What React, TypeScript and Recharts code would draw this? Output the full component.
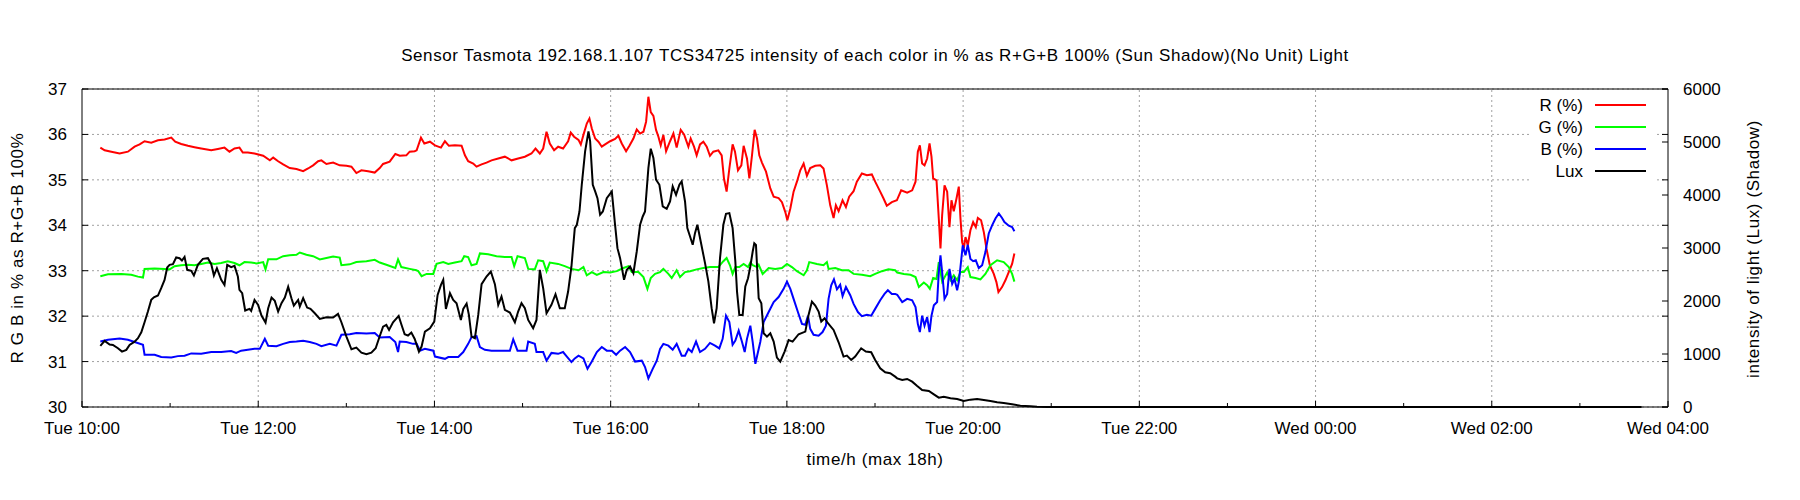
import { CartesianGrid, Line, LineChart, ReferenceLine, XAxis, YAxis } from "recharts";

const FONT = '"Liberation Sans", Arial, Helvetica, sans-serif';
const TITLE =
  "Sensor Tasmota 192.168.1.107 TCS34725 intensity of each color in % as R+G+B 100% (Sun Shadow)(No Unit) Light";

// time axis in hours since Tue 00:00 (24 = Wed 00:00)
const hourTicks = [10, 11, 12, 13, 14, 15, 16, 17, 18, 19, 20, 21, 22, 23, 24, 25, 26, 27, 28];
const gridHours = [12, 14, 16, 18, 20, 22, 24, 26];
const percentTicks = [30, 31, 32, 33, 34, 35, 36, 37];
const luxTicks = [0, 1000, 2000, 3000, 4000, 5000, 6000];

const red: [number, number][] = [
  [10.208, 35.71], [10.257, 35.65], [10.333, 35.62], [10.427, 35.58], [10.521, 35.62], [10.597, 35.73],
  [10.654, 35.78], [10.71, 35.85], [10.786, 35.82], [10.862, 35.87], [10.937, 35.89], [11.013, 35.93],
  [11.058, 35.84], [11.126, 35.79], [11.202, 35.75], [11.277, 35.72], [11.353, 35.69], [11.467, 35.65],
  [11.542, 35.68], [11.617, 35.71], [11.674, 35.62], [11.731, 35.69], [11.787, 35.71], [11.825, 35.6],
  [11.882, 35.6], [11.958, 35.58], [12.056, 35.53], [12.132, 35.43], [12.17, 35.49], [12.226, 35.41],
  [12.283, 35.34], [12.358, 35.26], [12.434, 35.24], [12.51, 35.19], [12.566, 35.25], [12.623, 35.32],
  [12.68, 35.41], [12.717, 35.43], [12.774, 35.35], [12.85, 35.38], [12.925, 35.32], [13.001, 35.31],
  [13.058, 35.29], [13.114, 35.15], [13.171, 35.21], [13.247, 35.19], [13.322, 35.16], [13.379, 35.26],
  [13.417, 35.35], [13.492, 35.4], [13.556, 35.57], [13.606, 35.53], [13.681, 35.54], [13.719, 35.62],
  [13.776, 35.63], [13.798, 35.65], [13.847, 35.93], [13.885, 35.8], [13.949, 35.84], [14.006, 35.76],
  [14.074, 35.71], [14.119, 35.85], [14.164, 35.75], [14.232, 35.76], [14.308, 35.75], [14.346, 35.54],
  [14.383, 35.41], [14.44, 35.36], [14.478, 35.29], [14.535, 35.34], [14.591, 35.38], [14.648, 35.43],
  [14.724, 35.47], [14.799, 35.51], [14.875, 35.43], [14.95, 35.47], [15.026, 35.51], [15.101, 35.58],
  [15.147, 35.69], [15.196, 35.58], [15.234, 35.69], [15.272, 36.06], [15.309, 35.8], [15.358, 35.65],
  [15.404, 35.73], [15.46, 35.69], [15.517, 35.85], [15.547, 36.04], [15.585, 35.95], [15.635, 35.88],
  [15.661, 35.78], [15.691, 35.99], [15.729, 36.24], [15.759, 36.35], [15.786, 36.13], [15.824, 35.91],
  [15.861, 35.84], [15.899, 35.73], [15.937, 35.78], [15.994, 35.85], [16.05, 35.9], [16.088, 35.97],
  [16.126, 35.8], [16.175, 35.63], [16.213, 35.75], [16.258, 35.91], [16.296, 36.11], [16.334, 36.02],
  [16.372, 36.06], [16.402, 36.28], [16.428, 36.83], [16.455, 36.49], [16.485, 36.41], [16.515, 36.1],
  [16.542, 35.95], [16.568, 35.76], [16.598, 35.99], [16.629, 35.63], [16.674, 35.85], [16.712, 36.02],
  [16.749, 35.71], [16.795, 36.1], [16.833, 36.0], [16.882, 35.73], [16.908, 35.91], [16.946, 35.73],
  [16.976, 35.54], [17.014, 35.78], [17.052, 35.84], [17.09, 35.73], [17.127, 35.53], [17.165, 35.62],
  [17.222, 35.65], [17.26, 35.54], [17.286, 35.03], [17.316, 34.74], [17.347, 35.25], [17.384, 35.78],
  [17.411, 35.62], [17.445, 35.21], [17.483, 35.32], [17.509, 35.75], [17.547, 35.47], [17.574, 35.03],
  [17.604, 35.54], [17.634, 36.1], [17.661, 35.91], [17.687, 35.54], [17.717, 35.38], [17.763, 35.18],
  [17.812, 34.81], [17.85, 34.63], [17.906, 34.6], [17.944, 34.51], [17.982, 34.29], [18.005, 34.11],
  [18.039, 34.37], [18.076, 34.74], [18.114, 34.96], [18.152, 35.21], [18.19, 35.36], [18.227, 35.09],
  [18.265, 35.26], [18.322, 35.31], [18.379, 35.32], [18.416, 35.25], [18.454, 34.88], [18.492, 34.44],
  [18.53, 34.16], [18.556, 34.44], [18.587, 34.31], [18.632, 34.55], [18.67, 34.4], [18.707, 34.63],
  [18.757, 34.75], [18.794, 34.96], [18.851, 35.14], [18.908, 35.1], [18.964, 35.12], [19.002, 34.96],
  [19.059, 34.74], [19.097, 34.59], [19.134, 34.43], [19.191, 34.51], [19.248, 34.55], [19.297, 34.77],
  [19.365, 34.72], [19.422, 34.77], [19.46, 34.96], [19.486, 35.62], [19.509, 35.76], [19.535, 35.36],
  [19.562, 35.32], [19.592, 35.47], [19.619, 35.8], [19.641, 35.51], [19.66, 35.03], [19.698, 34.99],
  [19.724, 34.15], [19.743, 33.49], [19.762, 34.22], [19.789, 34.88], [19.819, 34.74], [19.845, 33.96],
  [19.868, 34.55], [19.894, 34.31], [19.925, 34.59], [19.951, 34.85], [19.97, 34.15], [19.989, 33.63],
  [20.008, 33.49], [20.027, 33.74], [20.053, 33.56], [20.083, 33.89], [20.114, 34.07], [20.144, 33.96],
  [20.167, 34.16], [20.204, 34.11], [20.235, 33.85], [20.265, 33.49], [20.303, 33.12], [20.348, 32.93],
  [20.378, 32.75], [20.401, 32.53], [20.442, 32.64], [20.48, 32.79], [20.518, 32.97], [20.556, 33.15],
  [20.582, 33.38],
];

const green: [number, number][] = [
  [10.208, 32.88], [10.295, 32.92], [10.446, 32.93], [10.559, 32.91], [10.635, 32.87], [10.692, 32.85],
  [10.71, 33.04], [10.824, 33.05], [10.937, 33.04], [10.994, 33.03], [11.051, 33.1], [11.126, 33.12],
  [11.202, 33.13], [11.277, 33.12], [11.353, 33.15], [11.429, 33.18], [11.504, 33.15], [11.58, 33.17],
  [11.655, 33.21], [11.731, 33.17], [11.787, 33.12], [11.844, 33.19], [11.92, 33.18], [11.981, 33.16],
  [12.056, 33.19], [12.083, 33.03], [12.113, 33.25], [12.207, 33.25], [12.283, 33.32], [12.358, 33.34],
  [12.434, 33.35], [12.472, 33.4], [12.547, 33.35], [12.623, 33.32], [12.699, 33.25], [12.774, 33.28],
  [12.85, 33.31], [12.925, 33.29], [12.944, 33.12], [13.039, 33.14], [13.114, 33.19], [13.228, 33.21],
  [13.322, 33.24], [13.379, 33.18], [13.454, 33.13], [13.556, 33.06], [13.587, 33.25], [13.624, 33.08],
  [13.719, 33.04], [13.795, 33.01], [13.817, 32.99], [13.854, 32.88], [13.911, 32.93], [13.987, 32.93],
  [14.024, 33.15], [14.1, 33.19], [14.157, 33.15], [14.232, 33.18], [14.308, 33.21], [14.338, 33.32],
  [14.383, 33.3], [14.421, 33.12], [14.478, 33.15], [14.516, 33.38], [14.61, 33.36], [14.705, 33.32],
  [14.799, 33.3], [14.875, 33.3], [14.905, 33.1], [14.943, 33.32], [15.026, 33.28], [15.064, 33.04],
  [15.139, 33.03], [15.177, 33.23], [15.234, 33.21], [15.272, 32.99], [15.309, 33.18], [15.404, 33.15],
  [15.479, 33.1], [15.555, 33.04], [15.635, 33.01], [15.691, 33.08], [15.729, 32.9], [15.786, 32.97],
  [15.843, 32.91], [15.918, 32.97], [15.994, 32.96], [16.069, 32.99], [16.145, 33.06], [16.202, 33.1],
  [16.239, 32.97], [16.315, 32.97], [16.372, 32.86], [16.417, 32.6], [16.455, 32.84], [16.504, 32.93],
  [16.561, 32.97], [16.598, 33.04], [16.655, 32.93], [16.693, 32.84], [16.749, 33.01], [16.787, 32.86],
  [16.844, 32.97], [16.901, 32.99], [16.976, 33.03], [17.052, 33.06], [17.127, 33.08], [17.222, 33.08],
  [17.279, 33.21], [17.316, 33.28], [17.354, 33.12], [17.384, 32.93], [17.415, 33.08], [17.46, 33.08],
  [17.509, 33.15], [17.559, 33.08], [17.585, 33.18], [17.612, 33.12], [17.661, 33.08], [17.68, 33.13],
  [17.725, 32.93], [17.793, 33.06], [17.868, 33.04], [17.944, 33.06], [18.001, 33.15], [18.057, 33.08],
  [18.114, 32.99], [18.19, 32.9], [18.227, 33.01], [18.254, 33.19], [18.341, 33.15], [18.416, 33.12],
  [18.454, 33.19], [18.473, 33.04], [18.549, 33.06], [18.624, 33.01], [18.7, 33.01], [18.757, 32.93],
  [18.851, 32.91], [18.946, 32.88], [19.002, 32.93], [19.078, 32.99], [19.153, 33.03], [19.229, 33.01],
  [19.252, 32.96], [19.328, 32.93], [19.403, 32.91], [19.46, 32.86], [19.498, 32.64], [19.554, 32.74],
  [19.592, 32.68], [19.622, 32.6], [19.66, 32.84], [19.698, 32.82], [19.724, 33.19], [19.762, 32.76],
  [19.819, 32.96], [19.857, 32.79], [19.894, 32.9], [19.932, 32.79], [19.97, 32.97], [20.008, 32.97],
  [20.053, 33.08], [20.083, 32.86], [20.14, 32.84], [20.197, 32.81], [20.253, 32.93], [20.31, 33.12],
  [20.386, 33.23], [20.461, 33.19], [20.518, 33.08], [20.556, 32.93], [20.582, 32.76],
];

const blue: [number, number][] = [
  [10.208, 31.44], [10.295, 31.48], [10.427, 31.51], [10.521, 31.48], [10.597, 31.43], [10.692, 31.37],
  [10.71, 31.15], [10.824, 31.15], [10.899, 31.1], [11.013, 31.09], [11.088, 31.12], [11.164, 31.13],
  [11.24, 31.18], [11.353, 31.17], [11.467, 31.21], [11.58, 31.21], [11.693, 31.23], [11.75, 31.19],
  [11.806, 31.24], [11.882, 31.26], [11.958, 31.28], [12.018, 31.28], [12.075, 31.5], [12.113, 31.35],
  [12.207, 31.34], [12.283, 31.39], [12.358, 31.43], [12.434, 31.44], [12.51, 31.46], [12.585, 31.43],
  [12.661, 31.39], [12.717, 31.34], [12.812, 31.39], [12.888, 31.35], [12.944, 31.59], [13.039, 31.6],
  [13.114, 31.63], [13.228, 31.62], [13.322, 31.63], [13.379, 31.53], [13.492, 31.54], [13.556, 31.43],
  [13.587, 31.21], [13.606, 31.44], [13.681, 31.43], [13.757, 31.39], [13.798, 31.39], [13.835, 31.24],
  [13.892, 31.28], [13.987, 31.24], [14.006, 31.11], [14.119, 31.06], [14.157, 31.1], [14.27, 31.1],
  [14.327, 31.21], [14.383, 31.39], [14.421, 31.54], [14.478, 31.56], [14.516, 31.32], [14.572, 31.26],
  [14.648, 31.24], [14.856, 31.24], [14.894, 31.49], [14.943, 31.24], [15.045, 31.24], [15.064, 31.44],
  [15.139, 31.39], [15.158, 31.21], [15.234, 31.21], [15.272, 31.02], [15.328, 31.19], [15.404, 31.17],
  [15.46, 31.21], [15.498, 31.12], [15.555, 30.99], [15.593, 31.07], [15.635, 31.13], [15.691, 31.07],
  [15.737, 30.84], [15.786, 31.0], [15.843, 31.21], [15.899, 31.32], [15.956, 31.24], [16.013, 31.24],
  [16.062, 31.15], [16.107, 31.24], [16.164, 31.32], [16.22, 31.21], [16.277, 31.0], [16.353, 31.02],
  [16.39, 30.88], [16.428, 30.63], [16.477, 30.84], [16.523, 31.02], [16.561, 31.28], [16.598, 31.39],
  [16.655, 31.35], [16.704, 31.26], [16.749, 31.39], [16.806, 31.13], [16.844, 31.13], [16.882, 31.28],
  [16.92, 31.21], [16.969, 31.44], [17.014, 31.21], [17.071, 31.28], [17.127, 31.41], [17.184, 31.35],
  [17.233, 31.29], [17.271, 31.5], [17.309, 32.01], [17.347, 31.87], [17.384, 31.37], [17.415, 31.46],
  [17.453, 31.68], [17.491, 31.43], [17.521, 31.21], [17.547, 31.5], [17.585, 31.79], [17.612, 31.43],
  [17.642, 30.95], [17.672, 31.21], [17.698, 31.43], [17.736, 31.87], [17.793, 32.09], [17.85, 32.31],
  [17.906, 32.42], [17.963, 32.6], [18.001, 32.76], [18.039, 32.6], [18.076, 32.38], [18.125, 32.09],
  [18.171, 31.83], [18.209, 31.81], [18.239, 32.01], [18.265, 31.72], [18.303, 31.59], [18.36, 31.57],
  [18.405, 31.65], [18.443, 31.79], [18.473, 32.38], [18.503, 32.68], [18.534, 32.81], [18.568, 32.59],
  [18.605, 32.69], [18.632, 32.44], [18.67, 32.64], [18.719, 32.46], [18.757, 32.27], [18.806, 32.09],
  [18.851, 32.0], [18.908, 32.03], [18.957, 32.01], [19.002, 32.16], [19.059, 32.35], [19.108, 32.49],
  [19.146, 32.57], [19.191, 32.49], [19.229, 32.49], [19.252, 32.47], [19.309, 32.31], [19.365, 32.38],
  [19.422, 32.35], [19.46, 32.2], [19.486, 31.83], [19.509, 31.65], [19.535, 32.01], [19.562, 31.79],
  [19.592, 31.98], [19.619, 31.65], [19.641, 32.01], [19.668, 32.24], [19.705, 32.31], [19.724, 32.97],
  [19.743, 33.34], [19.762, 32.97], [19.789, 32.38], [19.819, 32.49], [19.845, 33.04], [19.876, 32.71],
  [19.902, 32.82], [19.932, 32.57], [19.951, 32.75], [19.97, 33.08], [19.996, 33.56], [20.027, 33.34],
  [20.053, 33.57], [20.083, 33.26], [20.114, 33.21], [20.144, 33.23], [20.178, 33.06], [20.216, 33.12],
  [20.253, 33.41], [20.291, 33.82], [20.329, 34.0], [20.367, 34.15], [20.405, 34.26], [20.442, 34.16],
  [20.469, 34.07], [20.518, 33.99], [20.556, 33.96], [20.582, 33.87],
];

const lux: [number, number][] = [
  [10.208, 1152], [10.257, 1247], [10.314, 1177], [10.351, 1171], [10.408, 1108], [10.454, 1045],
  [10.503, 1077], [10.54, 1171], [10.597, 1234], [10.635, 1297], [10.673, 1410], [10.71, 1599],
  [10.748, 1801], [10.786, 2021], [10.816, 2071], [10.862, 2103], [10.899, 2241], [10.937, 2399],
  [10.967, 2632], [10.994, 2682], [11.032, 2695], [11.069, 2821], [11.107, 2808], [11.134, 2764],
  [11.164, 2833], [11.194, 2588], [11.24, 2569], [11.27, 2481], [11.315, 2682], [11.372, 2795],
  [11.429, 2808], [11.467, 2695], [11.497, 2481], [11.531, 2619], [11.58, 2399], [11.617, 2304],
  [11.648, 2682], [11.693, 2638], [11.731, 2663], [11.769, 2462], [11.787, 2210], [11.818, 2147],
  [11.852, 1820], [11.901, 1851], [11.92, 1813], [11.958, 2021], [11.999, 1927], [12.037, 1725],
  [12.083, 1593], [12.113, 1864], [12.151, 2065], [12.188, 2002], [12.226, 1801], [12.264, 1958],
  [12.302, 2065], [12.34, 2267], [12.377, 2053], [12.404, 1914], [12.453, 2021], [12.472, 1895],
  [12.51, 2053], [12.555, 1876], [12.593, 1851], [12.642, 1769], [12.699, 1662], [12.774, 1694],
  [12.85, 1687], [12.906, 1757], [12.944, 1599], [13.001, 1328], [13.058, 1089], [13.114, 1121],
  [13.171, 1026], [13.228, 995], [13.284, 1026], [13.333, 1108], [13.371, 1297], [13.417, 1517],
  [13.454, 1549], [13.485, 1454], [13.53, 1599], [13.594, 1719], [13.624, 1561], [13.662, 1373],
  [13.7, 1347], [13.738, 1404], [13.776, 1284], [13.824, 1045], [13.854, 1140], [13.892, 1423],
  [13.949, 1486], [13.998, 1612], [14.036, 2115], [14.074, 2304], [14.1, 2399], [14.13, 1851],
  [14.176, 2147], [14.213, 2021], [14.251, 1958], [14.3, 1643], [14.327, 1851], [14.365, 1952],
  [14.391, 1738], [14.421, 1328], [14.459, 1297], [14.497, 1738], [14.535, 2317], [14.591, 2462],
  [14.64, 2556], [14.686, 2317], [14.724, 1927], [14.761, 2084], [14.799, 1832], [14.856, 1782],
  [14.913, 1599], [14.95, 1801], [14.988, 1958], [15.026, 1864], [15.064, 1643], [15.12, 1486],
  [15.158, 1643], [15.196, 2588], [15.234, 2241], [15.272, 1769], [15.328, 1927], [15.374, 2128],
  [15.423, 1864], [15.479, 1864], [15.517, 2178], [15.555, 2651], [15.593, 3375], [15.616, 3438],
  [15.646, 3689], [15.672, 4193], [15.71, 4823], [15.748, 5200], [15.767, 5012], [15.797, 4193],
  [15.824, 4067], [15.85, 3941], [15.88, 3627], [15.911, 3689], [15.956, 3941], [16.013, 4067],
  [16.05, 3438], [16.077, 2997], [16.107, 2808], [16.152, 2399], [16.183, 2588], [16.22, 2651],
  [16.258, 2525], [16.296, 2934], [16.334, 3438], [16.364, 3595], [16.39, 3689], [16.428, 4508],
  [16.455, 4873], [16.485, 4697], [16.515, 4288], [16.553, 4193], [16.591, 3784], [16.636, 3740],
  [16.674, 3878], [16.704, 4162], [16.742, 4004], [16.78, 4193], [16.806, 4256], [16.844, 3878],
  [16.87, 3375], [16.901, 3217], [16.931, 3060], [16.957, 3280], [16.984, 3438], [17.022, 3123],
  [17.071, 2714], [17.109, 2367], [17.146, 1864], [17.173, 1580], [17.203, 1864], [17.241, 2808],
  [17.279, 3438], [17.309, 3645], [17.347, 3658], [17.384, 3375], [17.415, 2745], [17.434, 2178],
  [17.46, 1738], [17.498, 1738], [17.528, 2273], [17.559, 2430], [17.585, 2651], [17.612, 2934],
  [17.63, 3091], [17.649, 3060], [17.68, 2053], [17.71, 1958], [17.736, 1391], [17.774, 1328],
  [17.812, 1391], [17.85, 1234], [17.887, 932], [17.925, 856], [17.974, 1045], [18.02, 1265],
  [18.065, 1234], [18.133, 1373], [18.209, 1423], [18.246, 1738], [18.284, 1990], [18.322, 1914],
  [18.36, 1801], [18.39, 1612], [18.428, 1675], [18.466, 1580], [18.53, 1454], [18.587, 1221],
  [18.643, 951], [18.681, 970], [18.73, 888], [18.775, 951], [18.843, 1108], [18.896, 1045],
  [18.957, 1033], [19.002, 888], [19.059, 730], [19.116, 655], [19.172, 636], [19.229, 573],
  [19.252, 541], [19.309, 510], [19.365, 529], [19.422, 478], [19.479, 397], [19.535, 321],
  [19.611, 302], [19.668, 239], [19.724, 176], [19.781, 195], [19.857, 164], [19.932, 151],
  [20.008, 113], [20.083, 139], [20.159, 151], [20.235, 132], [20.31, 113], [20.386, 88],
  [20.461, 76], [20.556, 50], [20.65, 25], [20.764, 13], [20.839, 6], [20.953, 0], [27.7, 0],
];

const series = [
  { name: "R (%)", color: "#ff0000", points: red, axis: "pct" },
  { name: "G (%)", color: "#00ff00", points: green, axis: "pct" },
  { name: "B (%)", color: "#0000ff", points: blue, axis: "pct" },
  { name: "Lux", color: "#000000", points: lux, axis: "lux" },
];

const hourLabel = (h: number) =>
  `${h < 24 ? "Tue" : "Wed"} ${String(h % 24).padStart(2, "0")}:00`;

// gnuplot-style ticks: drawn inward from the border, label outside
const AxisTick = (props: any) => {
  const { x, y, payload, side, gap = 0, format } = props;
  const v = payload.value;
  const horizontal = side === "bottom" || side === "top";
  const major = horizontal ? v % 2 === 0 : true;
  const len = major ? 6 : 4;
  const text = format && major ? format(v) : null;
  const style = { fontFamily: FONT, fontSize: 17, fill: "#000" };
  let line;
  let label = null;
  if (side === "bottom") {
    line = <line x1={x} y1={y - gap} x2={x} y2={y - gap - len} stroke="#000" />;
    if (text) label = <text x={x} y={y + 12} textAnchor="middle" style={style}>{text}</text>;
  } else if (side === "top") {
    line = <line x1={x} y1={y + gap} x2={x} y2={y + gap + len} stroke="#000" />;
  } else if (side === "left") {
    line = <line x1={x + gap} y1={y} x2={x + gap + len} y2={y} stroke="#000" />;
    if (text) label = <text x={x} y={y + 6} textAnchor="end" style={style}>{text}</text>;
  } else {
    line = <line x1={x - gap} y1={y} x2={x - gap - len} y2={y} stroke="#000" />;
    if (text) label = <text x={x} y={y + 6} textAnchor="start" style={style}>{text}</text>;
  }
  return (
    <g>
      {line}
      {label}
    </g>
  );
};

// short mirrored y1 tick on the right border
const RightMirrorTick = (p: any) => (
  <line x1={p.x2 - 6} y1={p.y1} x2={p.x2} y2={p.y2} stroke="#000" />
);

const txt = { fontFamily: FONT, fontSize: 17, fill: "#000" };
const titleTxt = { ...txt, letterSpacing: "0.6px" };

export default function App() {
  return (
    <div style={{ position: "absolute", left: 0, top: 0, width: 1800, height: 500, background: "#fff", overflow: "hidden" }}>
      <style>{"html,body{margin:0;overflow:hidden;}"}</style>
      <LineChart width={1800} height={500} margin={{ top: 79, right: 0, bottom: 0, left: 0 }}>
        <CartesianGrid vertical={false} yAxisId="pct" stroke="#a0a0a0" strokeDasharray="2 3" />
        {gridHours.map((h) => (
          <ReferenceLine key={h} x={h} yAxisId="pct" stroke="#a0a0a0" strokeDasharray="2 3" />
        ))}
        {percentTicks.map((v) => (
          <ReferenceLine key={`m${v}`} y={v} yAxisId="pct" shape={RightMirrorTick} />
        ))}
        <XAxis
          dataKey="t"
          type="number"
          domain={[10, 28]}
          ticks={hourTicks}
          interval={0}
          height={93}
          tickSize={0}
          tickMargin={15}
          tickLine={false}
          axisLine={{ stroke: "#000" }}
          tick={<AxisTick side="bottom" gap={15} format={hourLabel} />}
        />
        <XAxis
          xAxisId="top"
          orientation="top"
          type="number"
          domain={[10, 28]}
          ticks={hourTicks}
          interval={0}
          height={10}
          tickSize={0}
          tickMargin={0}
          tickLine={false}
          axisLine={{ stroke: "#000" }}
          tick={<AxisTick side="top" />}
        />
        <YAxis
          yAxisId="pct"
          domain={[30, 37]}
          ticks={percentTicks}
          interval={0}
          width={82}
          tickSize={0}
          tickMargin={15}
          tickLine={false}
          axisLine={{ stroke: "#000" }}
          tick={<AxisTick side="left" gap={15} format={String} />}
        />
        <YAxis
          yAxisId="lux"
          orientation="right"
          domain={[0, 6000]}
          ticks={luxTicks}
          interval={0}
          width={132}
          tickSize={0}
          tickMargin={15}
          tickLine={false}
          axisLine={{ stroke: "#000" }}
          tick={<AxisTick side="right" gap={15} format={String} />}
        />
        {series.map((s) => (
          <Line
            key={s.name}
            name={s.name}
            data={s.points.map(([t, v]) => ({ t, v }))}
            dataKey="v"
            yAxisId={s.axis}
            type="linear"
            stroke={s.color}
            strokeWidth={2}
            dot={false}
            activeDot={false}
            isAnimationActive={false}
          />
        ))}
      </LineChart>
      <svg
        width={1800}
        height={500}
        style={{ position: "absolute", left: 0, top: 0, pointerEvents: "none" }}
      >
        <text x={875} y={61} textAnchor="middle" style={titleTxt}>
          {TITLE}
        </text>
        <text x={875} y={465} textAnchor="middle" style={titleTxt}>
          time/h (max 18h)
        </text>
        <text transform="translate(23,248) rotate(-90)" textAnchor="middle" style={titleTxt}>
          R G B in % as R+G+B 100%
        </text>
        <text transform="translate(1759,249) rotate(-90)" textAnchor="middle" style={titleTxt}>
          intensity of light (Lux) (Shadow)
        </text>
        <rect x={1530} y={93} width={127} height={90} fill="#fff" />
        {series.map((s, i) => (
          <g key={s.name}>
            <text x={1583} y={111 + i * 22} textAnchor="end" style={txt}>
              {s.name}
            </text>
            <line x1={1595} x2={1646} y1={105 + i * 22} y2={105 + i * 22} stroke={s.color} strokeWidth={2} />
          </g>
        ))}
      </svg>
    </div>
  );
}
